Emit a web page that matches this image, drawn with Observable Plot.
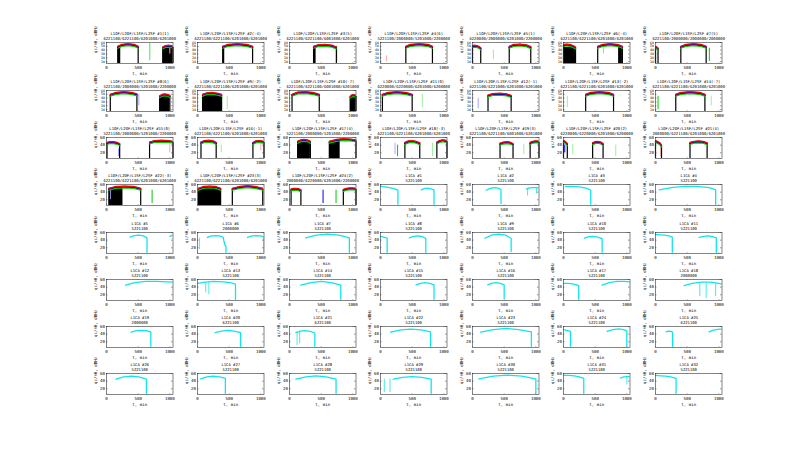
<!DOCTYPE html>
<html><head><meta charset="utf-8">
<script src="https://cdn.jsdelivr.net/npm/d3@7"></script>
<script src="https://cdn.jsdelivr.net/npm/@observablehq/plot@0.6"></script>
<style>
html,body{margin:0;padding:0;background:#fff;}
#wrap{position:relative;width:800px;height:454px;overflow:hidden;background:#fff;}
#wrap svg{position:absolute;overflow:visible;max-width:none;}
</style></head><body><div id="wrap"></div>
<script>
// ---------- titles ----------
const lofOffsets = [1,-4,5,6,1,-4,5,6,-2,-7,0,-1,-2,-7,0,-1,4,-3,3,2,4,-3,3,2];
const lofCodes = [
 "6221100/6221100/6201000/6201000","6221100/6221100/6201000/6201000","6221100/6221100/6001000/6201000",
 "5221100/2000000/5201000/2200000","6220000/2000000/6201000/2200000","6221100/6221100/6201000/6201000",
 "6221100/2000000/2000000/2000000","5221100/2000000/5201000/2200000","6221100/6221100/6201000/6201000",
 "6221100/6221100/6001000/6201000","6220000/6220000/6201000/6200000","6221100/6221000/6201000/6201000",
 "6221100/6221100/6201000/6201000","6221100/6221100/6201000/6201000","5221100/2000000/5201000/2200000",
 "6221100/6221100/6201000/6201000","5221100/2000000/5201000/2200000","6221100/6221100/6201000/6201000",
 "6221100/6221100/6001000/6201000","6220000/6220000/6201000/6200000","2000000/6221100/6201000/6201000",
 "6221100/6221100/6201000/6201000","6221100/6221100/6201000/6201000","2000000/6220000/6201000/2200000"];
const licaCodes = [
 "5221100","5221100","5221100","5221100","5221100","2000000","5221100","5221100",
 "5221100","5221100","5221100","5221100","5221100","5221100","5221100","5221100",
 "5221100","2000000","2000000","6221100","6221100","5221100","5221100","5221100",
 "6221100","5221100","5221100","5221100","5221100","5221100","5221100","5221100"];

// ---------- axes ----------
const xDomain = [0, 1050];
const yDomain = [5, 60];
const xTicks = [0, 500, 1000];
const yTicksDense = [10, 20, 30, 40, 50, 60];
const yTicksSparse = [20, 40, 60];

// ---------- GLONASS passes: [panel, t, red, blue, black, green] ----------
const lofRow1 = [
 [1,[180,240,340,440,500],[50,55,57,55,50],[49,54,56,54,49],[47,52,54,52,47],[45,50,52,50,45]],
 [1,[890,930,980,1020,1050],[48,52,53,52,50],[47,51,52,51,49],[45,49,50,49,47],[43,47,48,47,45]],
 [2,[400,480,630,780,870],[50,55,57,55,50],[49,54,56,54,49],[47,52,54,52,47],[45,50,52,50,45]],
 [3,[380,450,560,670,740],[50,54,55,53,48],[49,53,54,52,47],[47,51,52,50,45],[45,49,50,48,43]],
 [4,[400,470,610,750,820],[50,55,57,55,50],[49,54,56,54,49],[47,52,54,52,47],[45,50,52,50,45]],
 [5,[0,30,60,100,130],[52,53,52,50,46],[51,52,51,49,45],[49,50,49,47,43],[47,48,47,45,41]],
 [5,[580,650,750,850,920],[50,55,56,54,49],[49,54,55,53,48],[47,52,53,51,46],[45,50,51,49,44]],
 [6,[0,50,100,150,190],[55,56,55,52,48],[54,55,54,51,47],[52,53,52,49,45],[50,51,50,47,43]],
 [6,[540,620,730,850,930],[50,55,57,55,50],[49,54,56,54,49],[47,52,54,52,47],[45,50,52,50,45]],
 [7,[0,10,20,30,40],[48,49,48,47,45],[47,48,47,46,44],[45,46,45,44,42],[43,44,43,42,40]],
 [7,[400,480,600,720,800],[50,55,57,55,50],[49,54,56,54,49],[47,52,54,52,47],[45,50,52,50,45]]];
const lofRow2 = [
 [8,[60,150,270,400,480],[50,55,57,55,51],[49,54,56,54,50],[47,52,54,52,48],[45,50,52,50,46]],
 [8,[840,880,920,960,1000],[46,50,51,50,47],[45,49,50,49,46],[43,47,48,47,44],[41,45,46,45,42]],
 [9,[80,150,230,310,380],[50,54,55,53,50],[49,53,54,52,49],[47,51,52,50,47],[45,49,50,48,45]],
 [10,[40,130,250,370,470],[50,56,57,55,50],[49,55,56,54,49],[47,53,54,52,47],[45,51,52,50,45]],
 [10,[960,980,1000,1030,1050],[45,48,49,48,47],[44,47,48,47,46],[42,45,46,45,44],[40,43,44,43,42]],
 [11,[30,120,260,400,500],[50,55,57,55,50],[49,54,56,54,49],[47,52,54,52,47],[45,50,52,50,45]],
 [12,[245,320,430,540,610],[48,52,53,51,47],[47,51,52,50,46],[45,49,50,48,44],[43,47,48,46,42]],
 [13,[350,430,570,710,790],[50,55,57,55,50],[49,54,56,54,49],[47,52,54,52,47],[45,50,52,50,45]],
 [14,[320,400,550,700,780],[50,55,57,55,50],[49,54,56,54,49],[47,52,54,52,47],[45,50,52,50,45]]];
const lofRow3 = [
 [15,[8,50,110,170,208],[47,49,49,47,44],[46,48,48,46,43],[44,46,46,44,41],[42,44,44,42,39]],
 [15,[680,760,870,980,1050],[48,52,53,52,50],[47,51,52,51,49],[45,49,50,49,47],[43,47,48,47,45]],
 [16,[55,110,180,250,295],[48,52,53,51,47],[47,51,52,50,46],[45,49,50,48,44],[43,47,48,46,42]],
 [16,[875,920,970,1010,1050],[47,51,52,51,50],[46,50,51,50,49],[44,48,49,48,47],[42,46,47,46,45]],
 [17,[130,180,230,280,330],[50,54,55,54,50],[49,53,54,53,49],[47,51,52,51,47],[45,49,50,49,45]],
 [17,[630,740,850,960,1050],[50,55,57,56,54],[49,54,56,55,53],[47,52,54,53,51],[45,50,52,51,49]],
 [18,[385,440,500,560,620],[47,51,52,50,46],[46,50,51,49,45],[44,48,49,47,43],[42,46,47,45,41]],
 [18,[890,930,980,1020,1050],[48,52,54,53,52],[47,51,53,52,51],[45,49,51,50,49],[43,47,49,48,47]],
 [19,[435,490,540,590,640],[45,48,49,48,44],[44,47,48,47,43],[42,45,46,45,41],[40,43,44,43,39]],
 [19,[910,950,990,1020,1050],[47,50,51,51,50],[46,49,50,50,49],[44,47,48,48,47],[42,45,46,46,45]],
 [20,[0,15,30,45,60],[52,51,49,47,44],[51,50,48,46,43],[49,48,46,44,41],[47,46,44,42,39]],
 [20,[460,500,540,590,625],[46,49,50,48,44],[45,48,49,47,43],[43,46,47,45,41],[41,44,45,43,39]],
 [21,[0,25,50,75,95],[52,50,48,45,40],[51,49,47,44,39],[49,47,45,42,37],[47,45,43,40,35]],
 [21,[545,610,680,750,815],[47,50,51,50,46],[46,49,50,49,45],[44,47,48,47,43],[42,45,46,45,41]]];
const lofRow4 = [
 [22,[40,150,290,430,540],[50,55,56,55,50],[49,54,55,54,49],[47,52,53,52,47],[45,50,51,50,45]],
 [23,[15,100,190,280,365],[50,55,56,55,50],[49,54,55,54,49],[47,52,53,52,47],[45,50,51,50,45]],
 [23,[550,670,790,910,1030],[50,55,57,55,50],[49,54,56,54,49],[47,52,54,52,47],[45,50,52,50,45]],
 [24,[25,60,100,140,180],[48,50,50,49,46],[47,49,49,48,45],[45,47,47,46,43],[43,45,45,44,41]],
 [24,[850,900,950,1000,1050],[47,50,51,51,50],[46,49,50,50,49],[44,47,48,48,47],[42,45,46,46,45]]];
// solid black regions: [panel, t1, t2, top]
const lofFills = [
 [1,180,225,50],[1,890,1050,48],[2,400,430,50],[3,380,420,48],[6,0,190,47],[6,870,930,48],
 [8,840,1000,45],[9,80,380,48],[10,960,1050,44],[17,130,330,50],[17,630,800,50],
 [22,40,260,50],[23,15,365,50]];
// isolated vertical strokes: [panel, t, y1, y2, colour]
const lofSpikes = [
 [1,680,12,58,"lb"],[1,688,15,55,"lg"],[1,1000,30,50,"pk"],[3,745,10,50,"g"],[4,95,10,25,"pk"],
 [5,330,15,40,"lg"],[6,630,30,52,"pk"],[7,850,10,45,"g"],[8,510,20,50,"lb"],[9,380,10,45,"g"],
 [9,470,10,45,"lg"],[11,660,15,50,"lg"],[12,90,12,40,"lb"],[13,60,15,45,"lg"],[14,40,10,45,"g"],
 [14,880,20,45,"lg"],[15,200,10,30,"b"],[15,1000,20,45,"pk"],[16,375,20,40,"lg"],[16,1000,25,45,"pk"],
 [18,230,15,45,"lb"],[18,270,10,40,"g"],[18,820,10,45,"lg"],[19,810,15,42,"lg"],[20,20,20,40,"b"],
 [20,147,15,42,"lg"],[20,825,10,40,"lg"],[21,80,10,35,"pk"],[22,60,20,45,"lb"],[22,720,10,45,"g"],
 [24,530,10,45,"b"],[24,735,10,45,"g"]];

// ---------- GPS L1CA passes: [prn, t, C/N0] ----------
const licaRows4to5 = [
 [1,[0,100,200,275,275],[55,53,50,45,8]],[1,[645,700,770,845,845],[46,50,50,46,8]],
 [2,[215,280,350,420,450,450],[45,50,52,50,46,10]],[2,[850,900,960,1010,1050],[48,51,52,52,51]],
 [3,[30,130,250,370,430,430],[55,55,54,50,45,8]],
 [4,[60,250,450,650,850,950,950],[46,52,55,55,52,46,8]],
 [5,[370,440,510,580,640,640],[48,52,53,51,46,8]],[5,[1000,1025,1050],[50,52,53]],
 [6,[155,220,280,350,405,430,450,450],[47,51,52,51,47,28,24,8]],[6,[790,860,930,1000,1045,1045],[47,51,52,51,48,8]],
 [7,[255,420,600,780,945,945],[46,53,56,53,46,8]],
 [8,[0,50,105,105],[50,48,45,8]],[8,[455,520,590,660,715,715],[46,50,51,49,45,8]],
 [9,[195,300,410,520,610,610],[45,53,56,53,45,10]],
 [10,[330,400,470,540,610,610],[45,49,50,48,44,8]],
 [11,[0,70,140,210,265,265],[55,54,53,51,48,8]],[11,[690,760,830,900,960,960],[47,50,51,49,46,8]]];
const licaRow6 = [
 [12,[300,450,620,800,950,1050],[45,52,55,55,54,53]],
 [13,[0,120,260,400,520,600,600],[50,53,55,54,52,48,8]],
 [14,[180,340,500,660,810,810],[45,52,55,52,45,8]],
 [15,[560,630,700,780,845,845],[46,50,52,50,46,8]],
 [16,[240,300,370,440,500,500],[46,50,52,50,46,10]],
 [17,[0,60,120,180,240,240],[50,50,49,47,44,8]],[17,[610,720,840,960,1050],[45,52,55,55,54]],
 [18,[450,580,720,860,1000,1050],[44,50,53,53,50,48]]];
const licaRows7to8 = [
 [19,[390,470,550,630,700,700],[45,49,50,49,45,8]],
 [20,[280,380,480,580,680,680],[44,48,50,48,44,8]],
 [21,[100,170,250,330,400,400],[44,48,49,47,43,8]],
 [22,[160,320,480,640,790,790],[45,51,53,51,46,8]],
 [23,[130,330,530,730,930,930],[45,52,55,52,46,8]],
 [24,[0,50,110,110],[52,50,47,8]],[24,[690,780,870,950,1000,1000],[47,52,54,52,48,8]],
 [25,[165,200,240,270,270],[46,48,47,45,8]],[25,[845,900,960,1010,1050],[46,50,52,53,53]],
 [26,[150,270,390,510,630,630],[45,51,53,51,45,8]],
 [27,[50,150,250,350,440,440],[46,51,53,51,47,8]],
 [28,[100,260,420,580,735,735],[45,51,54,51,45,8]],
 [29,[200,350,500,650,800,800],[45,50,52,50,45,8]],
 [30,[100,330,550,780,1000,1000],[46,53,56,53,46,8]],
 [31,[5,90,170,250,320,320],[55,55,54,51,47,8]],[31,[900,950,1000,1050],[48,51,52,52]],
 [32,[0,80,160,240,325,325],[55,54,53,51,47,8]]];
const licaSpikes = [
 [2,870,30,50],[2,1010,35,52],[6,30,15,45],[13,130,25,52],[13,180,20,52],
 [18,700,15,50],[18,800,10,50],[18,950,15,50],[21,120,10,45],[21,160,15,45],
 [29,60,10,45],[29,150,10,45],[31,1000,30,50]];

// ---------- style ----------
const colour = {r:"#ff0000", b:"#0000ff", k:"#000000", g:"#00c800",
  pk:"#ffa8a8", lg:"#9cf09c", lb:"#a8a8ff", c:"#10e6ea"};
const FONT = 4.1, TITLE_FONT = 3.9, DENSE_FONT = 3.3;
const BOX_X0 = 105.5, STEP_X = 91.5, BOX_Y0 = 42.3, STEP_Y = 47.3;
const BW = 66.5, BH = 21, ML = 16, MR = 10, MT = 14, MB = 16;

const lofPasses = [...lofRow1, ...lofRow2, ...lofRow3, ...lofRow4];
const licaPasses = [...licaRows4to5, ...licaRow6, ...licaRows7to8];

function toPoints(list, idx) {
  const out = [];
  list.forEach((p, j) => p[1].forEach((t, i) => out.push({id: j, t, v: p[idx][i]})));
  return out;
}

const wrap = document.getElementById("wrap");
for (let i = 0; i < 56; i++) {
  const row = Math.floor(i / 7), col = i % 7;
  const isLof = i < 24;
  const n = isLof ? i + 1 : i - 23;
  const title1 = isLof ? `L1OF/L2OF/L1SF/L2SF #${n}(${lofOffsets[i]})` : `L1CA #${n}`;
  const title2 = isLof ? lofCodes[i] : licaCodes[n - 1];
  const dense = row < 2;
  const yt = dense ? yTicksDense : yTicksSparse;
  const marks = [];
  if (isLof) {
    const ps = lofPasses.filter(p => p[0] === n);
    marks.push(Plot.rectY(lofFills.filter(f => f[0] === n), {x1: d => d[1], x2: d => d[2], y1: yDomain[0], y2: d => d[3], fill: colour.k}));
    marks.push(Plot.ruleX(lofSpikes.filter(s => s[0] === n), {x: d => d[1], y1: d => d[2], y2: d => d[3], stroke: d => colour[d[4]], strokeWidth: 1}));
    const ends = [];
    ps.forEach(p => { ends.push({t: p[1][0], v: p[4][0]}); ends.push({t: p[1][p[1].length - 1], v: p[4][p[4].length - 1]}); });
    marks.push(Plot.ruleX(ends, {x: "t", y1: yDomain[0], y2: "v", stroke: colour.k, strokeWidth: 1.2}));
    [[4, "k"], [5, "g"], [3, "b"], [2, "r"]].forEach(([idx, c]) => {
      marks.push(Plot.line(toPoints(ps, idx), {x: "t", y: "v", z: "id", stroke: colour[c], strokeWidth: 1.3, clip: true}));
    });
  } else {
    const ps = licaPasses.filter(p => p[0] === n);
    marks.push(Plot.ruleX(licaSpikes.filter(s => s[0] === n), {x: d => d[1], y1: d => d[2], y2: d => d[3], stroke: colour.c, strokeWidth: 0.8}));
    marks.push(Plot.line(toPoints(ps, 2), {x: "t", y: "v", z: "id", stroke: colour.c, strokeWidth: 1.3, clip: true}));
  }
  marks.push(
    Plot.frame({stroke: "#333", strokeWidth: 0.6}),
    Plot.ruleX(xTicks, {x: d => d, y1: yDomain[0], y2: yDomain[0] + 1.6, stroke: "#333", strokeWidth: 0.5}),
    Plot.ruleX(xTicks, {x: d => d, y1: yDomain[1] - 1.6, y2: yDomain[1], stroke: "#333", strokeWidth: 0.5}),
    Plot.ruleY(yt, {y: d => d, x1: 0, x2: 24, stroke: "#333", strokeWidth: 0.5}),
    Plot.ruleY(yt, {y: d => d, x1: 1026, x2: 1050, stroke: "#333", strokeWidth: 0.5}),
    Plot.axisX(xTicks, {tickSize: 0, tickPadding: 2.2, fontSize: FONT, label: null, tickFormat: d3.format("d")}),
    Plot.axisY(yt, {tickSize: 0, tickPadding: 1.5, fontSize: dense ? DENSE_FONT : FONT, label: null, tickFormat: d3.format("d")}),
    Plot.text(["t, min"], {text: d => d, frameAnchor: "bottom", dy: 11.5, fontSize: FONT}),
    Plot.text(["qc/n0, dBHz"], {text: d => d, frameAnchor: "left", rotate: -90, dx: -10.8, fontSize: FONT}),
    Plot.text([title1], {text: d => d, frameAnchor: "top", dy: -10.2, fontSize: TITLE_FONT}),
    Plot.text([title2], {text: d => d, frameAnchor: "top", dy: -5.0, fontSize: TITLE_FONT})
  );
  const svg = Plot.plot({
    width: BW + ML + MR, height: BH + MT + MB,
    marginLeft: ML, marginRight: MR, marginTop: MT, marginBottom: MB,
    style: {fontFamily: "'DejaVu Sans Mono', monospace", fontSize: FONT + "px", background: "transparent", overflow: "visible"},
    x: {domain: xDomain},
    y: {domain: yDomain},
    marks
  });
  svg.style.left = (BOX_X0 + STEP_X * col - ML) + "px";
  svg.style.top = (BOX_Y0 + STEP_Y * row - MT) + "px";
  wrap.appendChild(svg);
}
</script></body></html>
